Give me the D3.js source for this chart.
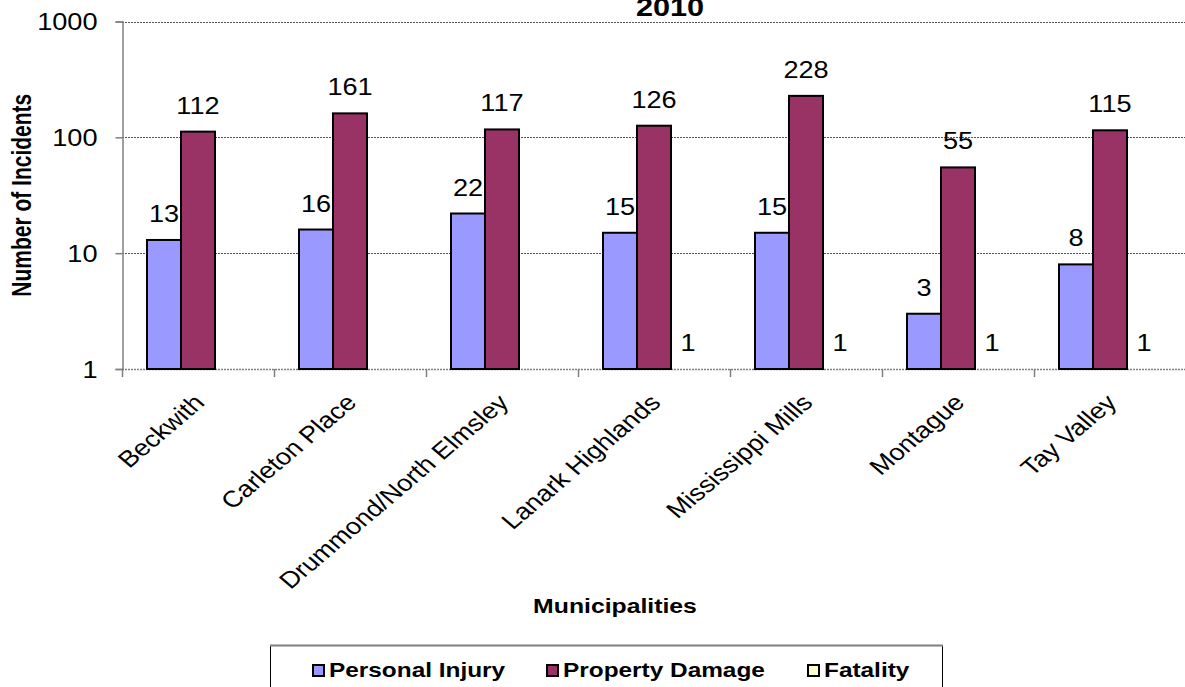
<!DOCTYPE html>
<html>
<head>
<meta charset="utf-8">
<script src="https://cdn.jsdelivr.net/npm/d3@7"></script>
<style>
  html, body { margin: 0; padding: 0; background: #fff; }
  svg { display: block; font-family: "Liberation Sans", Arial, sans-serif; }
</style>
</head>
<body>
<svg id="chart" width="1185" height="687"></svg>
<script>
const categories = ["Beckwith", "Carleton Place", "Drummond/North Elmsley", "Lanark Highlands", "Mississippi Mills", "Montague", "Tay Valley"];
const seriesNames = ["Personal Injury", "Property Damage", "Fatality"];
const personalInjury = [13, 16, 22, 15, 15, 3, 8];
const propertyDamage = [112, 161, 117, 126, 228, 55, 115];
const fatality = [null, null, null, 1, 1, 1, 1];
const seriesColors = ["#9999FF", "#993366", "#FFFFCC"];
const yTicks = [1, 10, 100, 1000];
const chartTitle = "2010";
const yTitle = "Number of Incidents";
const xTitle = "Municipalities";

const seriesValues = [personalInjury, propertyDamage, fatality];
const SX = 1.18; // horizontal text stretch seen in the reference

const svg = d3.select("#chart");
const plot = { left: 122, right: 1186, top: 21.5, bottom: 369 };

const y = d3.scaleLog().domain([1, 1000]).range([plot.bottom, plot.top]);
const x0 = d3.scaleBand().domain(categories).range([plot.left, plot.right]).paddingInner(0).paddingOuter(0);
const x1 = d3.scaleBand().domain(seriesNames).range([0, x0.bandwidth()]).paddingInner(0).paddingOuter(0.735);

// gridlines
svg.append("g").selectAll("line").data(yTicks.slice(1)).join("line")
  .attr("x1", plot.left).attr("x2", plot.right)
  .attr("y1", d => Math.round(y(d)) + 0.5).attr("y2", d => Math.round(y(d)) + 0.5)
  .attr("stroke", "#555").attr("stroke-width", 1).attr("stroke-dasharray", "2,1");

// y axis
const yAxis = d3.axisLeft(y).tickValues(yTicks).tickFormat(d3.format("d")).tickSize(7).tickPadding(18);
const gy = svg.append("g").attr("transform", `translate(${plot.left + 0.5},0)`).call(yAxis);
gy.select(".domain").attr("stroke", "#808080").attr("stroke-width", 1.5);
gy.selectAll(".tick line").attr("stroke", "#808080").attr("stroke-width", 1.5);
gy.selectAll(".tick text")
  .attr("font-size", 23).attr("fill", "#000").attr("dy", null).attr("x", null)
  .attr("text-anchor", "end")
  .attr("transform", "translate(-25,8) scale(" + SX + ",1)");

// x axis (baseline + ticks at category boundaries)
svg.append("line")
  .attr("x1", plot.left).attr("x2", plot.right)
  .attr("y1", plot.bottom + 0.5).attr("y2", plot.bottom + 0.5)
  .attr("stroke", "#808080").attr("stroke-width", 1.5).attr("stroke-dasharray", "2,1");
svg.append("g").selectAll("line").data(categories).join("line")
  .attr("x1", d => Math.round(x0(d)) + 0.5).attr("x2", d => Math.round(x0(d)) + 0.5)
  .attr("y1", plot.bottom).attr("y2", plot.bottom + 8)
  .attr("stroke", "#808080").attr("stroke-width", 1.5);

// bars
const groups = svg.append("g").selectAll("g").data(categories).join("g")
  .attr("transform", d => `translate(${x0(d)},0)`);

const barData = (c, i) => seriesNames.map((s, k) => ({ series: s, k, value: seriesValues[k][i] }));

groups.each(function(c, i) {
  const g = d3.select(this);
  const data = barData(c, i).filter(d => d.value != null);
  g.selectAll("rect").data(data.filter(d => d.value > 1)).join("rect")
    .attr("x", d => x1(d.series))
    .attr("y", d => y(d.value))
    .attr("width", x1.bandwidth())
    .attr("height", d => y(1) - y(d.value))
    .attr("fill", d => seriesColors[d.k])
    .attr("stroke", "#000").attr("stroke-width", 2);
  g.selectAll("text").data(data).join("text")
    .attr("text-anchor", "middle")
    .attr("font-size", 23)
    .attr("fill", "#000")
    .attr("transform", d => `translate(${x1(d.series) + x1.bandwidth() / 2},${y(d.value) - 18}) scale(${SX},1)`)
    .text(d => d.value);
});

// x labels
svg.append("g").selectAll("text").data(categories).join("text")
  .attr("text-anchor", "end")
  .attr("font-size", 23)
  .attr("fill", "#000")
  .attr("transform", d => `translate(${x0(d) + x0.bandwidth() / 2 + 8},${plot.bottom + 35}) scale(${SX},1) rotate(-45)`)
  .text(d => d);

// title
svg.append("text")
  .attr("text-anchor", "middle").attr("font-weight", "bold").attr("font-size", 26)
  .attr("transform", `translate(670,16) scale(${SX},1)`)
  .text(chartTitle);

// y title
svg.append("text")
  .attr("text-anchor", "middle").attr("font-weight", "bold").attr("font-size", 21)
  .attr("transform", `translate(31,${(plot.top + plot.bottom) / 2}) scale(1.3,1) rotate(-90)`)
  .text(yTitle);

// x title
svg.append("text")
  .attr("text-anchor", "middle").attr("font-weight", "bold").attr("font-size", 21)
  .attr("transform", `translate(615,613) scale(${SX},1)`)
  .text(xTitle);

// legend
const legend = svg.append("g");
legend.append("rect")
  .attr("x", 270.5).attr("y", 645.5).attr("width", 672).attr("height", 60)
  .attr("fill", "#fff").attr("stroke", "#000").attr("stroke-width", 1);
legend.append("line")
  .attr("x1", 270).attr("x2", 943).attr("y1", 645.5).attr("y2", 645.5)
  .attr("stroke", "#808080").attr("stroke-width", 2);
const legendX = [312, 546, 807];
const items = legend.selectAll("g.item").data(seriesNames).join("g").attr("class", "item")
  .attr("transform", (d, k) => `translate(${legendX[k]},0)`);
items.append("rect")
  .attr("x", 1).attr("y", 665).attr("width", 11).attr("height", 11)
  .attr("fill", (d, k) => seriesColors[k]).attr("stroke", "#000").attr("stroke-width", 2);
items.append("text")
  .attr("font-weight", "bold").attr("font-size", 20.5).attr("fill", "#000")
  .attr("transform", `translate(17,677) scale(1.19,1)`)
  .text(d => d);
</script>
</body>
</html>
